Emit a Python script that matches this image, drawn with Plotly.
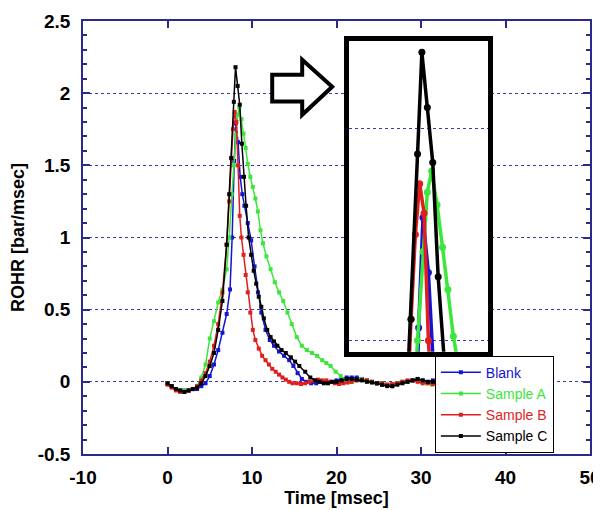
import plotly.graph_objs as go

# data
blank_x = [0, 0.5, 1, 1.5, 2, 2.5, 3, 3.5, 4, 4.5, 5, 5.5, 6, 6.5, 7, 7.4, 7.65, 7.9, 8.1, 8.35, 8.6, 8.85,
           9.1, 9.5, 9.9, 10.3, 10.7, 11.1, 11.6, 12.1, 12.6, 13.2, 13.8, 14.4, 14.9, 15.4, 15.9, 16.4, 17.0,
           17.6, 18.2, 18.8, 19.4, 20.0, 20.6, 21.2, 21.8, 22.4, 23.0, 23.6, 24.2, 24.8, 25.4, 26.0, 26.6,
           27.2, 27.8, 28.4, 29.0, 29.6, 30.2, 30.8, 31.4, 32.0, 32.6, 33.2]
blank_y = [-0.01, -0.03, -0.05, -0.06, -0.06, -0.06, -0.05, -0.05, -0.03, -0.01, 0.04, 0.12, 0.22, 0.34, 0.47,
           0.64, 1.0, 1.53, 1.79, 1.66, 1.42, 1.30, 1.22, 1.10, 0.98, 0.80, 0.62, 0.48, 0.36, 0.29, 0.25, 0.21,
           0.18, 0.15, 0.11, 0.06, 0.02, 0.0, -0.01, -0.01, 0.0, 0.0, 0.0, 0.01, 0.02, 0.03, 0.03, 0.03, 0.02,
           0.01, 0.0, -0.01, -0.02, -0.02, -0.03, -0.01, 0.0, 0.0, 0.01, 0.02, 0.01, 0.0, 0.01, -0.01, 0.0, 0.0]

a_x = [0, 0.5, 1, 1.5, 2, 2.5, 3, 3.5, 4, 4.5, 5, 5.5, 6, 6.5, 7, 7.3, 7.6, 7.85, 8.1, 8.3, 8.5, 8.75, 9.0,
       9.25, 9.5, 9.8, 10.1, 10.4, 10.7, 11.0, 11.3, 11.7, 12.2, 12.7, 13.2, 13.7, 14.2, 14.7, 15.3, 15.9,
       16.5, 17.1, 17.7, 18.3, 18.8, 19.3, 19.9, 20.5, 21.1, 21.7, 22.3, 22.9, 23.5, 24.1, 24.7, 25.3, 25.9,
       26.5, 27.1, 27.7, 28.3, 28.9, 29.5, 30.1, 30.7, 31.3, 31.9, 32.5]
a_y = [-0.01, -0.03, -0.05, -0.06, -0.06, -0.06, -0.05, -0.03, 0.03, 0.12, 0.30, 0.42, 0.55, 0.64, 0.78, 1.0,
       1.3, 1.50, 1.71, 1.85, 1.90, 1.82, 1.72, 1.62, 1.51, 1.42, 1.35, 1.27, 1.18, 1.05, 0.96, 0.87, 0.78,
       0.69, 0.62, 0.56, 0.48, 0.40, 0.31, 0.25, 0.22, 0.20, 0.18, 0.15, 0.13, 0.11, 0.07, 0.04, 0.01, 0.0,
       0.01, 0.02, 0.01, 0.0, -0.01, -0.01, -0.02, -0.02, -0.01, 0.0, 0.0, 0.01, 0.01, 0.0, -0.01, -0.02,
       -0.01, 0.0]

b_x = [0, 0.5, 1, 1.5, 2, 2.5, 3, 3.5, 4, 4.5, 5, 5.5, 6, 6.5, 7, 7.3, 7.55, 7.75, 7.95, 8.15, 8.35, 8.55,
       8.75, 9.0, 9.25, 9.5, 9.8, 10.1, 10.4, 10.8, 11.2, 11.6, 12.0, 12.4, 12.8, 13.2, 13.6, 14.0, 14.4,
       14.8, 15.3, 15.8, 16.3, 16.8, 17.3, 17.8, 18.3, 18.8, 19.3, 19.8, 20.3, 20.8, 21.3, 21.8, 22.4, 23.0,
       23.6, 24.2, 24.8, 25.4, 26.0, 26.6, 27.2, 27.8, 28.4, 29.0, 29.6, 30.2, 30.8, 31.4, 32.0, 32.6]
b_y = [-0.02, -0.04, -0.06, -0.07, -0.07, -0.06, -0.05, -0.03, 0.01, 0.06, 0.14, 0.25, 0.40, 0.62, 0.95,
       1.25, 1.55, 1.75, 1.87, 1.80, 1.50, 1.15, 1.00, 0.88, 0.74, 0.62, 0.48, 0.36, 0.29, 0.23, 0.18, 0.15,
       0.12, 0.09, 0.07, 0.05, 0.03, 0.015, 0.0, -0.01, -0.01, -0.015, -0.01, 0.0, 0.01, 0.015, 0.01, 0.01,
       0.0, -0.01, -0.015, -0.01, -0.005, 0.0, 0.01, 0.015, 0.01, 0.0, -0.01, -0.01, -0.02, -0.015, -0.01,
       0.0, 0.01, 0.01, 0.0, -0.01, -0.01, -0.015, -0.01, 0.0]

c_x = [0, 0.5, 1, 1.5, 2, 2.5, 3, 3.5, 4, 4.5, 5, 5.5, 6, 6.5, 7, 7.3, 7.55, 7.85, 8.05, 8.3, 8.55, 8.8,
       9.05, 9.3, 9.6, 9.9, 10.2, 10.5, 10.8, 11.1, 11.4, 11.8, 12.2, 12.6, 13.0, 13.5, 14.0, 14.6, 15.1,
       15.6, 16.3, 16.9, 17.5, 18.0, 18.5, 19.0, 19.5, 20.0, 20.6, 21.2, 21.8, 22.4, 23.0, 23.6, 24.2, 24.8,
       25.4, 26.0, 26.6, 27.2, 27.8, 28.4, 29.0, 29.6, 30.2, 30.8, 31.4, 32.0, 32.6]
c_y = [-0.01, -0.03, -0.05, -0.06, -0.07, -0.06, -0.05, -0.04, -0.01, 0.04, 0.11, 0.20, 0.36, 0.56, 0.95,
       1.30, 1.55, 1.94, 2.18, 2.05, 1.92, 1.65, 1.42, 1.22, 1.00, 0.88, 0.77, 0.68, 0.59, 0.52, 0.44, 0.36,
       0.31, 0.28, 0.25, 0.22, 0.20, 0.17, 0.14, 0.11, 0.07, 0.03, 0.01, 0.0, -0.01, -0.01, 0.0, 0.0, 0.01,
       0.02, 0.02, 0.015, 0.01, 0.0, -0.005, -0.01, -0.02, -0.03, -0.03, -0.02, -0.01, 0.0, 0.01, 0.02, 0.01,
       0.0, 0.0, 0.01, 0.0]

names = ["Blank", "Sample A", "Sample B", "Sample C"]
colors = ["#1414d2", "#3ce63c", "#e01e1e", "#000000"]
series = [(blank_x, blank_y), (a_x, a_y), (b_x, b_y), (c_x, c_y)]

x_ticks = [-10, 0, 10, 20, 30, 40, 50]
x_labels = ["-10", "0", "10", "20", "30", "40", "50"]
y_ticks = [-0.5, 0, 0.5, 1, 1.5, 2, 2.5]
y_labels = ["-0.5", "0", "0.5", "1", "1.5", "2", "2.5"]

navy = "#2a2a8c"
grid = "#3c3ca8"
font = "Arial, Liberation Sans, sans-serif"

fig = go.Figure()

for (xs, ys), name, col in zip(series, names, colors):
    fig.add_trace(go.Scatter(
        x=xs, y=ys,
        mode="lines+markers",
        name="<span style='color:%s'>%s</span>" % (col, name),
        line=dict(color=col, width=1.5),
        marker=dict(color=col, size=4, symbol="square")))

# zoomed inset of the peak
for (xs, ys), col in zip(series, colors):
    fig.add_trace(go.Scatter(
        x=xs, y=ys,
        xaxis="x2", yaxis="y2",
        mode="lines+markers",
        showlegend=False,
        line=dict(color=col, width=3.5),
        marker=dict(color=col, size=7)))

# the page body has an 8px margin, so the figure is 8px smaller than the window
fig.layout.width = 593
fig.layout.height = 502
fig.layout.margin = dict(l=75, r=11, t=13, b=56)
fig.layout.plot_bgcolor = "white"
fig.layout.paper_bgcolor = "white"
fig.layout.font = dict(family=font, color="black")

fig.layout.xaxis = dict(
    range=[-10, 50], tickvals=x_ticks, ticktext=x_labels, automargin=False,
    ticks="inside", ticklen=7, tickcolor=navy, tickwidth=1.5,
    showline=True, linecolor=navy, linewidth=1.5, mirror="ticks",
    showgrid=False, zeroline=False,
    tickfont=dict(size=19, weight="bold"), ticklabelstandoff=5,
    title=dict(text="Time [msec]", font=dict(size=18, weight="bold"), standoff=4))
fig.layout.yaxis = dict(
    range=[-0.5, 2.5], tickvals=y_ticks, ticktext=y_labels, automargin=False,
    ticks="inside", ticklen=7, tickcolor=navy, tickwidth=1.5,
    minor=dict(dtick=0.1, ticks="inside", ticklen=4, tickcolor=navy, showgrid=False),
    showline=True, linecolor=navy, linewidth=1.5, mirror="ticks",
    showgrid=True, gridcolor=grid, griddash="dot", gridwidth=1, zeroline=False,
    tickfont=dict(size=19, weight="bold"), ticklabelstandoff=7,
    title=dict(text="ROHR [bar/msec]", font=dict(size=18, weight="bold"), standoff=11))

fig.layout.xaxis2 = dict(
    domain=[0.525, 0.799], anchor="y2", range=[4.7, 11.1], automargin=False,
    showticklabels=False, ticks="", showgrid=False, zeroline=False,
    showline=True, linecolor="black", linewidth=5, mirror=True)
fig.layout.yaxis2 = dict(
    domain=[0.236, 0.954], anchor="x2", range=[1.473, 2.207], automargin=False,
    tickvals=[1.5, 2.0], showticklabels=False, ticks="",
    showgrid=True, gridcolor=grid, griddash="dot", gridwidth=1, zeroline=False,
    showline=True, linecolor="black", linewidth=5, mirror=True)

# outlined arrow pointing at the inset
fig.add_shape(
    type="path", xref="x", yref="y", layer="above",
    path="M 12.39,2.128 L 15.94,2.128 L 15.94,2.231 L 19.49,2.044 L 15.94,1.850 L 15.94,1.942 L 12.39,1.942 Z",
    line=dict(color="black", width=4), fillcolor="white")

fig.layout.showlegend = True
fig.layout.legend = dict(
    x=0.694, y=0.003, xanchor="left", yanchor="bottom",
    bgcolor="white", bordercolor="black", borderwidth=1,
    font=dict(size=14), tracegroupgap=0, itemwidth=40)

fig.write_html("out.html")
